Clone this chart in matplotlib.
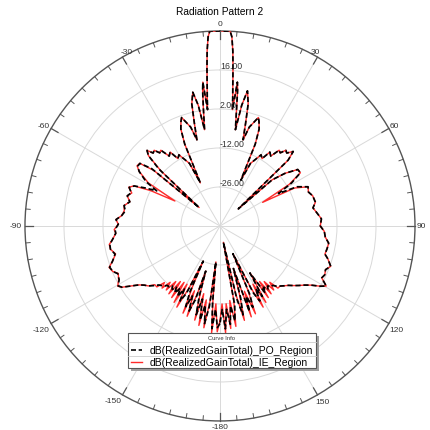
import numpy as np
import matplotlib.pyplot as plt
from matplotlib.lines import Line2D
from matplotlib.patches import Rectangle

plt.rcParams['font.family'] = ['Liberation Sans', 'DejaVu Sans']

# gain cut, angle in degrees (0 = boresight, clockwise positive)
theta_deg = [
    -180, -178.5, -177, -175.5, -174.5, -173.5, -172.5, -171, -169.5, -168,
    -166.5, -165, -163.5, -162.5, -161.5, -160, -158.5, -157, -155.5, -154.5,
    -153.5, -152, -150.5, -149, -147.5, -146, -144.5, -143, -141.5, -140,
    -138.5, -137, -135.5, -134, -132, -130, -128, -126, -124, -122,
    -120.5, -118, -115, -113, -110.5, -108, -105, -102, -99.5, -97,
    -94, -92, -89, -86.5, -84, -81, -78, -75, -72, -69.5,
    -67, -65, -63, -61, -59, -56, -54, -52, -50, -48.5,
    -47, -45.5, -44, -42.5, -41, -39.5, -38, -36, -34, -32,
    -30, -28, -26, -24.5, -23.3, -22, -20.5, -19.5, -18, -16.5,
    -15, -14, -13, -11.5, -10.2, -9.1, -8, -7.3, -6.8, -6.4,
    -6.1, -5.7, -5.2, -4.7, -4.2, -3.6, -3, 0,
    3, 3.6, 4.2, 4.7, 5.2, 5.7, 6.1, 6.5, 6.9, 7.4,
    8, 9.1, 10.2, 11.5, 13, 14, 15, 16.5, 18, 19.5,
    20.5, 22, 23.3, 24.5, 26, 28, 30, 32, 34, 36,
    38, 39.5, 41, 42.5, 44.5, 46, 47, 48.5, 51, 54,
    56.5, 59, 61, 63, 66, 69, 72, 76, 79, 82,
    86, 90, 93, 96, 99, 102, 105, 107, 110, 112.5,
    115, 117, 119.5, 121, 123, 125, 127, 129, 131, 133,
    135, 137, 138.5, 140, 141.5, 143, 144.5, 146, 147.5, 149,
    150.5, 152, 153.5, 155, 156.5, 158, 159.5, 161, 162.5, 164,
    165.5, 167, 168.2, 169.5, 171, 172.5, 174, 175.5, 177, 178.5,
    180,
]

po_db = [
    -5, -3.5, -10, -3, -12, -27, -11, -4.5, -11, -5.5,
    -13, -7, -14, -23, -12, -7.5, -13, -8.5, -14, -26,
    -13, -9.5, -14, -10.5, -13.5, -11, -13, -11.5, -12.5, -11.5,
    -11.5, -10.5, -10, -9.5, -8, -6.5, -5.5, -4, -1.5, 1.5,
    2.4, 1.0, 0.5, 1.8, 2.3, 0.5, -1.0, 0.2, 0.1, -1.2,
    -2.5, -2.3, -3.5, -2.6, -4.5, -5.6, -4.8, -6.5, -5, -6,
    -4.6, -6, -10, -14, -9, -5, -3.5, -3.5, -8, -30,
    -10, -4, -2.3, -4.5, -4, -6, -5.5, -9, -8, -11.5,
    -10.5, -13, -15, -23, -8, -2.5, 0, 1.3, -1, -3,
    -8, -2, 5, 9, 4, -5, 3, 9, 12, 6,
    2, 6, 11, 17, 23, 28, 30, 30,
    30, 28, 23, 17, 11, 6, 2, 6, 12, 9,
    3, -5, 4, 9.5, 5, -2, -8, -3, -1, 1.3,
    0, -2.5, -8, -22, -15, -13, -10.5, -11.5, -8, -9,
    -5.5, -6, -4, -4.5, -2.5, -6, -31, -15, -10, -5.5,
    -5.4, -10, -16, -9, -5.4, -6, -5, -4.7, -6, -5,
    -3.5, -4, -2.5, -2, -0.5, -0.7, -1, 0.5, 2.3, 1,
    1.5, 1, 3.8, 2, -1, -3, -4.5, -6, -7.5, -8.5,
    -9.5, -10.5, -11.5, -11.5, -12.5, -11.5, -13, -11, -20, -10.5,
    -14, -9.5, -13, -29, -13, -8.5, -13, -7.5, -24, -13,
    -7, -13, -34, -11, -5.5, -11, -4.5, -10, -3, -10,
    -5,
]

ie_db = [
    -6, -2, -12, -1.5, -14, -27, -13, -3, -13, -3.5,
    -15, -5, -16, -23, -14, -5.5, -15, -6, -17, -26,
    -15, -7, -16, -8, -16, -9, -15.5, -9.5, -14.5, -10,
    -13, -9.5, -11.5, -8.5, -8.5, -6.5, -5.5, -4, -1.5, 1.5,
    2.6, 1.2, 0.3, 1.8, 2.5, 0.5, -1.2, 0.2, 0.3, -1.2,
    -2.5, -2.0, -3.5, -2.6, -4.5, -5.2, -4.8, -6.5, -5, -6.2,
    -4.4, -6, -12, -21.5, -10, -5, -3.2, -3.5, -9, -30,
    -11, -4, -2.3, -4.5, -4, -6, -5.5, -9, -8, -11.5,
    -10.5, -13, -15, -23, -8, -2.5, 0, 1.3, -1, -3,
    -8, -2, 5, 9, 4, -5, 3, 9, 12, 6,
    2, 6, 11, 17, 23, 28, 30, 30,
    30, 28, 23, 17, 11, 6, 2, 6, 12, 9,
    3, -5, 4, 9.5, 5, -2, -8, -3, -1, 1.3,
    0, -2.5, -8, -22, -15, -13, -10.5, -11.5, -8, -9,
    -5.5, -6, -4, -4.5, -2.5, -6, -31, -15, -10, -5.5,
    -5.4, -11, -22.5, -10, -5.4, -6, -5, -4.7, -6, -5,
    -3.5, -4, -2.5, -2, -0.5, -0.7, -1, 0.5, 2.3, 1,
    1.5, 1, 3.8, 2, -1, -3, -4.5, -6, -7.5, -8.5,
    -9.5, -9.5, -13, -10, -14.5, -9.5, -15.5, -9, -20, -8,
    -16, -7, -15, -29, -15, -6, -15, -5.5, -24, -15,
    -5, -15, -34, -13, -3.5, -13, -3, -12, -1.5, -12,
    -6,
]

ring_values = [-26, -12, 2, 16]
angle_ticks = [0, 30, 60, 90, 120, 150, 180, 210, 240, 270, 300, 330]
angle_labels = ['0', '30', '60', '90', '120', '150', '-180', '-150', '-120', '-90', '-60', '-30']
legend_names = ['dB(RealizedGainTotal)_PO_Region', 'dB(RealizedGainTotal)_IE_Region']

R_MIN, R_MAX = -40, 30
PX_PER_DB = 195 / (R_MAX - R_MIN)   # outer ring is 195 px from the centre

# where each angle label sits: (angle in deg, distance from centre in px)
label_spots = [(0, 202), (28.5, 199), (60, 201), (90, 201), (120.3, 204.5), (149.6, 203),
               (180, 201), (211.4, 205), (240, 206.5), (270, 204.5), (299.7, 203), (331.8, 198)]

fig = plt.figure(figsize=(4.30, 4.31), dpi=100)
ax = fig.add_axes([0.0581, 0.0209, 0.907, 0.905], projection='polar')
ax.set_theta_zero_location('N')
ax.set_theta_direction(-1)

th = np.deg2rad(theta_deg)
ax.plot(th, ie_db, color='#ff2a2a', lw=1.0, zorder=3)
ax.plot(th, po_db, color='black', lw=1.25, dashes=(3.0, 1.6), zorder=4)

ax.set_ylim(R_MIN, R_MAX)
ax.set_yticks(ring_values)
ax.set_yticklabels([])
for v in ring_values:
    ax.text(0, v, f'{v:.2f}', ha='left', va='bottom', fontsize=6.3, color='#333333', zorder=5)

ax.set_xticks(np.deg2rad(angle_ticks))
ax.set_xticklabels([])
ax.tick_params(axis='x', length=0)
ax.xaxis.grid(True, color='#d9d9d9', lw=0.7)
ax.yaxis.grid(True, color='#d9d9d9', lw=0.7)
ax.spines['polar'].set_color('#555555')
ax.spines['polar'].set_linewidth(1.0)

# inward ticks on the outer ring every 5 deg, longer every 30 deg
for a in range(0, 360, 5):
    tick_px = 8 if a % 30 == 0 else 4.5
    ax.plot([np.deg2rad(a)] * 2, [R_MAX, R_MAX - tick_px / PX_PER_DB],
            color='#555555', lw=0.9 if a % 30 == 0 else 0.7, clip_on=False, zorder=6)

# angle labels just outside the ring
for (a, r_px), lab in zip(label_spots, angle_labels):
    ax.text(np.deg2rad(a), R_MIN + r_px / PX_PER_DB, lab, ha='center', va='center',
            fontsize=6.0, color='#333333', clip_on=False)

fig.text(220 / 430, 1 - 12 / 431, 'Radiation Pattern 2', ha='center', va='center', fontsize=7.3)

# curve info box
x0, x1 = 127.7 / 430, 316 / 430
y0, y1 = 1 - 369.3 / 431, 1 - 334.3 / 431
fig.patches.append(Rectangle((x0 + 3 / 430, y0 - 3 / 431), x1 - x0, y1 - y0,
                             transform=fig.transFigure, facecolor='#a0a0a0',
                             edgecolor='none', zorder=8))
fig.patches.append(Rectangle((x0, y0), x1 - x0, y1 - y0, transform=fig.transFigure,
                             facecolor='white', edgecolor='#555555', lw=0.8, zorder=9))
fig.text((x0 + x1) / 2, 1 - 339 / 431, 'Curve Info', ha='center', va='center',
         fontsize=4.2, color='#333333', zorder=10)
for yy in [343, 356.5]:
    fig.lines.append(Line2D([x0, x1], [1 - yy / 431] * 2, transform=fig.transFigure,
                            color='#cccccc', lw=0.6, zorder=10))
row_y = [350.7, 362.7]
styles = [dict(color='black', dashes=(3.0, 1.6), lw=1.2), dict(color='#ff2a2a', lw=1.0)]
for name, yy, st in zip(legend_names, row_y, styles):
    fy = 1 - yy / 431
    fig.lines.append(Line2D([130.7 / 430, 141.7 / 430], [fy, fy], transform=fig.transFigure,
                            zorder=10, **st))
    fig.text(150 / 430, fy, name, ha='left', va='center', fontsize=7.5, zorder=10)

fig.savefig('out.png', dpi=100)
